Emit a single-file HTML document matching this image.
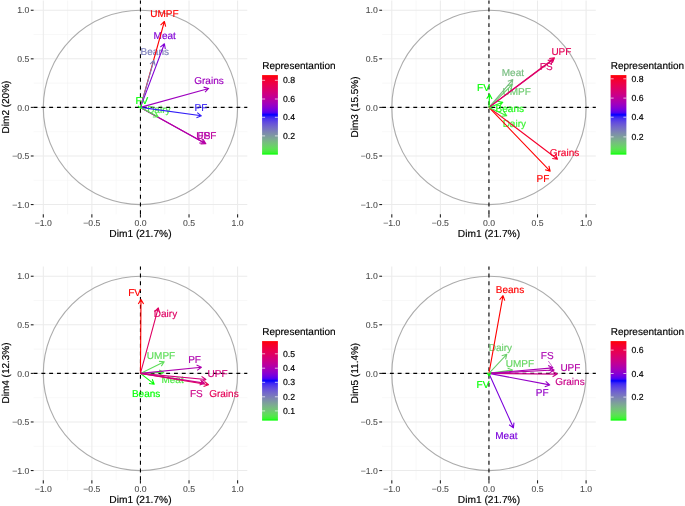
<!DOCTYPE html>
<html><head><meta charset="utf-8"><style>
html,body{margin:0;padding:0;background:#fff;}
svg{display:block;will-change:transform;}
text{font-family:"Liberation Sans", sans-serif;text-rendering:geometricPrecision;stroke-width:0.16px;}
.gmaj{stroke:#ebebeb;stroke-width:1.05;}
.gmin{stroke:#f3f3f3;stroke-width:0.55;}
.circ{fill:none;stroke:#acacac;stroke-width:1.15;}
.dash{stroke:#000;stroke-width:1.1;stroke-dasharray:3.9 3.9;}
.tick{stroke:#222;stroke-width:1.1;}
.tl{font-size:8.7px;fill:#4d4d4d;stroke:#4d4d4d;stroke-width:0.08px;}
.at{font-size:10.2px;fill:#000;stroke:#000;}
.yt{font-size:10px;fill:#000;stroke:#000;}
.lt{font-size:10px;fill:#000;stroke:#000;}
.ll{font-size:8.7px;fill:#000;stroke:#000;}
.lab{font-size:10px;}
.arr{fill:none;stroke-width:1.1;stroke-linecap:butt;stroke-linejoin:round;}
.ltk{stroke:#fff;stroke-width:0.8;opacity:0.85;}
</style></head><body>
<svg width="685" height="506" viewBox="0 0 685 506">
<defs><linearGradient id="lg" x1="0" y1="1" x2="0" y2="0">
<stop offset="0.000" stop-color="#00ff00"/>
<stop offset="0.025" stop-color="#39f431"/>
<stop offset="0.050" stop-color="#4fe947"/>
<stop offset="0.075" stop-color="#5ddf57"/>
<stop offset="0.100" stop-color="#67d465"/>
<stop offset="0.125" stop-color="#6fc972"/>
<stop offset="0.150" stop-color="#75bf7d"/>
<stop offset="0.175" stop-color="#79b488"/>
<stop offset="0.200" stop-color="#7ca993"/>
<stop offset="0.225" stop-color="#7d9e9c"/>
<stop offset="0.250" stop-color="#7d93a6"/>
<stop offset="0.275" stop-color="#7d88af"/>
<stop offset="0.300" stop-color="#7a7db9"/>
<stop offset="0.325" stop-color="#7772c2"/>
<stop offset="0.350" stop-color="#7267cb"/>
<stop offset="0.375" stop-color="#6c5bd3"/>
<stop offset="0.400" stop-color="#644fdc"/>
<stop offset="0.425" stop-color="#5941e5"/>
<stop offset="0.450" stop-color="#4b33ee"/>
<stop offset="0.475" stop-color="#3621f6"/>
<stop offset="0.500" stop-color="#0000ff"/>
<stop offset="0.525" stop-color="#4b00f3"/>
<stop offset="0.550" stop-color="#6800e7"/>
<stop offset="0.575" stop-color="#7c00da"/>
<stop offset="0.600" stop-color="#8d00ce"/>
<stop offset="0.625" stop-color="#9a00c3"/>
<stop offset="0.650" stop-color="#a600b7"/>
<stop offset="0.675" stop-color="#b000ab"/>
<stop offset="0.700" stop-color="#ba009f"/>
<stop offset="0.725" stop-color="#c20094"/>
<stop offset="0.750" stop-color="#ca0088"/>
<stop offset="0.775" stop-color="#d1007d"/>
<stop offset="0.800" stop-color="#d70072"/>
<stop offset="0.825" stop-color="#dd0066"/>
<stop offset="0.850" stop-color="#e3005b"/>
<stop offset="0.875" stop-color="#e80050"/>
<stop offset="0.900" stop-color="#ed0044"/>
<stop offset="0.925" stop-color="#f20037"/>
<stop offset="0.950" stop-color="#f6002a"/>
<stop offset="0.975" stop-color="#fb001a"/>
<stop offset="1.000" stop-color="#ff0000"/>
</linearGradient></defs>
<rect width="685" height="506" fill="#fff"/>
<line x1="67.59" y1="0.53" x2="67.59" y2="214.27" class="gmin"/>
<line x1="33.58" y1="180.26" x2="247.31" y2="180.26" class="gmin"/>
<line x1="116.16" y1="0.53" x2="116.16" y2="214.27" class="gmin"/>
<line x1="33.58" y1="131.69" x2="247.31" y2="131.69" class="gmin"/>
<line x1="164.74" y1="0.53" x2="164.74" y2="214.27" class="gmin"/>
<line x1="33.58" y1="83.11" x2="247.31" y2="83.11" class="gmin"/>
<line x1="213.31" y1="0.53" x2="213.31" y2="214.27" class="gmin"/>
<line x1="33.58" y1="34.54" x2="247.31" y2="34.54" class="gmin"/>
<line x1="43.3" y1="0.53" x2="43.3" y2="214.27" class="gmaj"/>
<line x1="33.58" y1="204.55" x2="247.31" y2="204.55" class="gmaj"/>
<line x1="91.87" y1="0.53" x2="91.87" y2="214.27" class="gmaj"/>
<line x1="33.58" y1="155.98" x2="247.31" y2="155.98" class="gmaj"/>
<line x1="140.45" y1="0.53" x2="140.45" y2="214.27" class="gmaj"/>
<line x1="33.58" y1="107.4" x2="247.31" y2="107.4" class="gmaj"/>
<line x1="189.02" y1="0.53" x2="189.02" y2="214.27" class="gmaj"/>
<line x1="33.58" y1="58.83" x2="247.31" y2="58.83" class="gmaj"/>
<line x1="237.6" y1="0.53" x2="237.6" y2="214.27" class="gmaj"/>
<line x1="33.58" y1="10.25" x2="247.31" y2="10.25" class="gmaj"/>
<circle cx="140.45" cy="107.4" r="97.15" class="circ"/>
<line x1="33.58" y1="107.4" x2="247.31" y2="107.4" class="dash"/>
<line x1="140.45" y1="214.27" x2="140.45" y2="0.53" class="dash"/>
<line x1="43.3" y1="214.27" x2="43.3" y2="217.47" class="tick"/>
<line x1="30.78" y1="204.55" x2="33.58" y2="204.55" class="tick"/>
<text x="43.3" y="225.9" class="tl" text-anchor="middle">−1.0</text>
<text x="29.3" y="207.65" class="tl" text-anchor="end">−1.0</text>
<line x1="91.87" y1="214.27" x2="91.87" y2="217.47" class="tick"/>
<line x1="30.78" y1="155.98" x2="33.58" y2="155.98" class="tick"/>
<text x="91.87" y="225.9" class="tl" text-anchor="middle">−0.5</text>
<text x="29.3" y="159.08" class="tl" text-anchor="end">−0.5</text>
<line x1="140.45" y1="214.27" x2="140.45" y2="217.47" class="tick"/>
<line x1="30.78" y1="107.4" x2="33.58" y2="107.4" class="tick"/>
<text x="140.45" y="225.9" class="tl" text-anchor="middle">0.0</text>
<text x="29.3" y="110.5" class="tl" text-anchor="end">0.0</text>
<line x1="189.02" y1="214.27" x2="189.02" y2="217.47" class="tick"/>
<line x1="30.78" y1="58.83" x2="33.58" y2="58.83" class="tick"/>
<text x="189.02" y="225.9" class="tl" text-anchor="middle">0.5</text>
<text x="29.3" y="61.93" class="tl" text-anchor="end">0.5</text>
<line x1="237.6" y1="214.27" x2="237.6" y2="217.47" class="tick"/>
<line x1="30.78" y1="10.25" x2="33.58" y2="10.25" class="tick"/>
<text x="237.6" y="225.9" class="tl" text-anchor="middle">1.0</text>
<text x="29.3" y="13.35" class="tl" text-anchor="end">1.0</text>
<text x="140.45" y="236.8" class="at" text-anchor="middle">Dim1 (21.7%)</text>
<text transform="translate(9.2,107) rotate(-90)" class="yt" text-anchor="middle">Dim2 (20%)</text>
<text x="164.45" y="16.7" fill="#ff0000" stroke="#ff0000" class="lab" text-anchor="middle">UMPF</text>
<text x="164.7" y="38.9" fill="#8200d6" stroke="#8200d6" class="lab" text-anchor="middle">Meat</text>
<text x="154.8" y="54.8" fill="#7a7cba" stroke="#7a7cba" class="lab" text-anchor="middle">Beans</text>
<text x="209" y="83.8" fill="#9e00bf" stroke="#9e00bf" class="lab" text-anchor="middle">Grains</text>
<text x="201" y="110.9" fill="#321ef7" stroke="#321ef7" class="lab" text-anchor="middle">PF</text>
<text x="206.3" y="139.3" fill="#bb009d" stroke="#bb009d" class="lab" text-anchor="middle">UPF</text>
<text x="204" y="139.3" fill="#b100ab" stroke="#b100ab" class="lab" text-anchor="middle">FS</text>
<text x="141.85" y="104.2" fill="#00ff00" stroke="#00ff00" class="lab" text-anchor="middle">FV</text>
<text x="158.8" y="112.7" fill="#50e948" stroke="#50e948" class="lab" text-anchor="middle">Dairy</text>
<path d="M140.45 107.4L164.37 21.48M160.58 25.19L164.37 21.48L165.69 26.61" stroke="#ff0000" class="arr"/>
<path d="M140.45 107.4L164.42 43.77M160.33 47.13L164.42 43.77L165.29 49" stroke="#8200d6" class="arr"/>
<path d="M140.45 107.4L153.86 60.38M150.06 64.07L153.86 60.38L155.15 65.52" stroke="#7a7cba" class="arr"/>
<path d="M140.45 107.4L208.72 88.43M203.59 87.11L208.72 88.43L205.01 92.22" stroke="#9e00bf" class="arr"/>
<path d="M140.45 107.4L201.4 115.83M197.22 112.58L201.4 115.83L196.49 117.83" stroke="#321ef7" class="arr"/>
<path d="M140.45 107.4L205.86 143.76M203.14 139.21L205.86 143.76L200.56 143.84" stroke="#bb009d" class="arr"/>
<path d="M140.45 107.4L204.46 142.96M201.74 138.41L204.46 142.96L199.16 143.05" stroke="#b100ab" class="arr"/>
<path d="M140.45 107.4L140.76 108.42M141.63 104.72L140.76 108.42L137.99 105.81" stroke="#00ff00" class="arr"/>
<path d="M140.45 107.4L158.16 116.77M155.34 112.28L158.16 116.77L152.86 116.96" stroke="#50e948" class="arr"/>
<text x="262.2" y="69" class="lt">Representantion</text>
<rect x="262.1" y="75.1" width="15.8" height="79.5" fill="url(#lg)"/>
<line x1="262.1" y1="80.3" x2="265.1" y2="80.3" class="ltk"/>
<line x1="274.9" y1="80.3" x2="277.9" y2="80.3" class="ltk"/>
<text x="283" y="83.4" class="ll">0.8</text>
<line x1="262.1" y1="99" x2="265.1" y2="99" class="ltk"/>
<line x1="274.9" y1="99" x2="277.9" y2="99" class="ltk"/>
<text x="283" y="102.1" class="ll">0.6</text>
<line x1="262.1" y1="117.3" x2="265.1" y2="117.3" class="ltk"/>
<line x1="274.9" y1="117.3" x2="277.9" y2="117.3" class="ltk"/>
<text x="283" y="120.4" class="ll">0.4</text>
<line x1="262.1" y1="135.9" x2="265.1" y2="135.9" class="ltk"/>
<line x1="274.9" y1="135.9" x2="277.9" y2="135.9" class="ltk"/>
<text x="283" y="139" class="ll">0.2</text>
<line x1="416.09" y1="0.53" x2="416.09" y2="214.27" class="gmin"/>
<line x1="382.08" y1="180.26" x2="595.82" y2="180.26" class="gmin"/>
<line x1="464.66" y1="0.53" x2="464.66" y2="214.27" class="gmin"/>
<line x1="382.08" y1="131.69" x2="595.82" y2="131.69" class="gmin"/>
<line x1="513.24" y1="0.53" x2="513.24" y2="214.27" class="gmin"/>
<line x1="382.08" y1="83.11" x2="595.82" y2="83.11" class="gmin"/>
<line x1="561.81" y1="0.53" x2="561.81" y2="214.27" class="gmin"/>
<line x1="382.08" y1="34.54" x2="595.82" y2="34.54" class="gmin"/>
<line x1="391.8" y1="0.53" x2="391.8" y2="214.27" class="gmaj"/>
<line x1="382.08" y1="204.55" x2="595.82" y2="204.55" class="gmaj"/>
<line x1="440.38" y1="0.53" x2="440.38" y2="214.27" class="gmaj"/>
<line x1="382.08" y1="155.98" x2="595.82" y2="155.98" class="gmaj"/>
<line x1="488.95" y1="0.53" x2="488.95" y2="214.27" class="gmaj"/>
<line x1="382.08" y1="107.4" x2="595.82" y2="107.4" class="gmaj"/>
<line x1="537.52" y1="0.53" x2="537.52" y2="214.27" class="gmaj"/>
<line x1="382.08" y1="58.83" x2="595.82" y2="58.83" class="gmaj"/>
<line x1="586.1" y1="0.53" x2="586.1" y2="214.27" class="gmaj"/>
<line x1="382.08" y1="10.25" x2="595.82" y2="10.25" class="gmaj"/>
<circle cx="488.95" cy="107.4" r="97.15" class="circ"/>
<line x1="382.08" y1="107.4" x2="595.82" y2="107.4" class="dash"/>
<line x1="488.95" y1="214.27" x2="488.95" y2="0.53" class="dash"/>
<line x1="391.8" y1="214.27" x2="391.8" y2="217.47" class="tick"/>
<line x1="379.28" y1="204.55" x2="382.08" y2="204.55" class="tick"/>
<text x="391.8" y="225.9" class="tl" text-anchor="middle">−1.0</text>
<text x="377.8" y="207.65" class="tl" text-anchor="end">−1.0</text>
<line x1="440.38" y1="214.27" x2="440.38" y2="217.47" class="tick"/>
<line x1="379.28" y1="155.98" x2="382.08" y2="155.98" class="tick"/>
<text x="440.38" y="225.9" class="tl" text-anchor="middle">−0.5</text>
<text x="377.8" y="159.08" class="tl" text-anchor="end">−0.5</text>
<line x1="488.95" y1="214.27" x2="488.95" y2="217.47" class="tick"/>
<line x1="379.28" y1="107.4" x2="382.08" y2="107.4" class="tick"/>
<text x="488.95" y="225.9" class="tl" text-anchor="middle">0.0</text>
<text x="377.8" y="110.5" class="tl" text-anchor="end">0.0</text>
<line x1="537.52" y1="214.27" x2="537.52" y2="217.47" class="tick"/>
<line x1="379.28" y1="58.83" x2="382.08" y2="58.83" class="tick"/>
<text x="537.52" y="225.9" class="tl" text-anchor="middle">0.5</text>
<text x="377.8" y="61.93" class="tl" text-anchor="end">0.5</text>
<line x1="586.1" y1="214.27" x2="586.1" y2="217.47" class="tick"/>
<line x1="379.28" y1="10.25" x2="382.08" y2="10.25" class="tick"/>
<text x="586.1" y="225.9" class="tl" text-anchor="middle">1.0</text>
<text x="377.8" y="13.35" class="tl" text-anchor="end">1.0</text>
<text x="488.95" y="236.8" class="at" text-anchor="middle">Dim1 (21.7%)</text>
<text transform="translate(357.7,107) rotate(-90)" class="yt" text-anchor="middle">Dim3 (15.5%)</text>
<text x="516.6" y="95.2" fill="#6ecb70" stroke="#6ecb70" class="lab" text-anchor="middle">UMPF</text>
<text x="512.9" y="75.9" fill="#76bd7f" stroke="#76bd7f" class="lab" text-anchor="middle">Meat</text>
<text x="509.8" y="112.3" fill="#1bfc16" stroke="#1bfc16" class="lab" text-anchor="middle">Beans</text>
<text x="564.5" y="155.9" fill="#f5002d" stroke="#f5002d" class="lab" text-anchor="middle">Grains</text>
<text x="543" y="181.8" fill="#ff0000" stroke="#ff0000" class="lab" text-anchor="middle">PF</text>
<text x="561.4" y="55" fill="#e50056" stroke="#e50056" class="lab" text-anchor="middle">UPF</text>
<text x="546.2" y="69.7" fill="#da006c" stroke="#da006c" class="lab" text-anchor="middle">FS</text>
<text x="483.5" y="91.1" fill="#00ff00" stroke="#00ff00" class="lab" text-anchor="middle">FV</text>
<text x="514.3" y="127.1" fill="#3df335" stroke="#3df335" class="lab" text-anchor="middle">Dairy</text>
<path d="M488.95 107.4L512.34 84.35M507.21 85.68L512.34 84.35L510.93 89.46" stroke="#6ecb70" class="arr"/>
<path d="M488.95 107.4L512.77 79.58M507.78 81.34L512.77 79.58L511.8 84.79" stroke="#76bd7f" class="arr"/>
<path d="M488.95 107.4L502.83 102.18M497.6 101.31L502.83 102.18L499.47 106.27" stroke="#1bfc16" class="arr"/>
<path d="M488.95 107.4L557.5 159.2M555.44 154.32L557.5 159.2L552.24 158.55" stroke="#f5002d" class="arr"/>
<path d="M488.95 107.4L550.15 171.14M548.89 165.99L550.15 171.14L545.06 169.66" stroke="#ff0000" class="arr"/>
<path d="M488.95 107.4L554.5 57.9M549.24 58.55L554.5 57.9L552.43 62.78" stroke="#e50056" class="arr"/>
<path d="M488.95 107.4L553 59.8M547.73 60.41L553 59.8L550.9 64.66" stroke="#da006c" class="arr"/>
<path d="M488.95 107.4L489.58 94.3M486.71 98.76L489.58 94.3L492 99.01" stroke="#00ff00" class="arr"/>
<path d="M488.95 107.4L506.75 115.79M503.73 111.43L506.75 115.79L501.47 116.23" stroke="#3df335" class="arr"/>
<text x="610.7" y="69" class="lt">Representantion</text>
<rect x="610.6" y="75.1" width="15.8" height="79.5" fill="url(#lg)"/>
<line x1="610.6" y1="78.8" x2="613.6" y2="78.8" class="ltk"/>
<line x1="623.4" y1="78.8" x2="626.4" y2="78.8" class="ltk"/>
<text x="631.5" y="81.9" class="ll">0.8</text>
<line x1="610.6" y1="98.1" x2="613.6" y2="98.1" class="ltk"/>
<line x1="623.4" y1="98.1" x2="626.4" y2="98.1" class="ltk"/>
<text x="631.5" y="101.2" class="ll">0.6</text>
<line x1="610.6" y1="117.2" x2="613.6" y2="117.2" class="ltk"/>
<line x1="623.4" y1="117.2" x2="626.4" y2="117.2" class="ltk"/>
<text x="631.5" y="120.3" class="ll">0.4</text>
<line x1="610.6" y1="136.9" x2="613.6" y2="136.9" class="ltk"/>
<line x1="623.4" y1="136.9" x2="626.4" y2="136.9" class="ltk"/>
<text x="631.5" y="140" class="ll">0.2</text>
<line x1="67.59" y1="266.53" x2="67.59" y2="480.26" class="gmin"/>
<line x1="33.58" y1="446.26" x2="247.31" y2="446.26" class="gmin"/>
<line x1="116.16" y1="266.53" x2="116.16" y2="480.26" class="gmin"/>
<line x1="33.58" y1="397.69" x2="247.31" y2="397.69" class="gmin"/>
<line x1="164.74" y1="266.53" x2="164.74" y2="480.26" class="gmin"/>
<line x1="33.58" y1="349.11" x2="247.31" y2="349.11" class="gmin"/>
<line x1="213.31" y1="266.53" x2="213.31" y2="480.26" class="gmin"/>
<line x1="33.58" y1="300.54" x2="247.31" y2="300.54" class="gmin"/>
<line x1="43.3" y1="266.53" x2="43.3" y2="480.26" class="gmaj"/>
<line x1="33.58" y1="470.55" x2="247.31" y2="470.55" class="gmaj"/>
<line x1="91.87" y1="266.53" x2="91.87" y2="480.26" class="gmaj"/>
<line x1="33.58" y1="421.97" x2="247.31" y2="421.97" class="gmaj"/>
<line x1="140.45" y1="266.53" x2="140.45" y2="480.26" class="gmaj"/>
<line x1="33.58" y1="373.4" x2="247.31" y2="373.4" class="gmaj"/>
<line x1="189.02" y1="266.53" x2="189.02" y2="480.26" class="gmaj"/>
<line x1="33.58" y1="324.82" x2="247.31" y2="324.82" class="gmaj"/>
<line x1="237.6" y1="266.53" x2="237.6" y2="480.26" class="gmaj"/>
<line x1="33.58" y1="276.25" x2="247.31" y2="276.25" class="gmaj"/>
<circle cx="140.45" cy="373.4" r="97.15" class="circ"/>
<line x1="33.58" y1="373.4" x2="247.31" y2="373.4" class="dash"/>
<line x1="140.45" y1="480.26" x2="140.45" y2="266.53" class="dash"/>
<line x1="43.3" y1="480.26" x2="43.3" y2="483.46" class="tick"/>
<line x1="30.78" y1="470.55" x2="33.58" y2="470.55" class="tick"/>
<text x="43.3" y="491.9" class="tl" text-anchor="middle">−1.0</text>
<text x="29.3" y="473.65" class="tl" text-anchor="end">−1.0</text>
<line x1="91.87" y1="480.26" x2="91.87" y2="483.46" class="tick"/>
<line x1="30.78" y1="421.97" x2="33.58" y2="421.97" class="tick"/>
<text x="91.87" y="491.9" class="tl" text-anchor="middle">−0.5</text>
<text x="29.3" y="425.07" class="tl" text-anchor="end">−0.5</text>
<line x1="140.45" y1="480.26" x2="140.45" y2="483.46" class="tick"/>
<line x1="30.78" y1="373.4" x2="33.58" y2="373.4" class="tick"/>
<text x="140.45" y="491.9" class="tl" text-anchor="middle">0.0</text>
<text x="29.3" y="376.5" class="tl" text-anchor="end">0.0</text>
<line x1="189.02" y1="480.26" x2="189.02" y2="483.46" class="tick"/>
<line x1="30.78" y1="324.82" x2="33.58" y2="324.82" class="tick"/>
<text x="189.02" y="491.9" class="tl" text-anchor="middle">0.5</text>
<text x="29.3" y="327.93" class="tl" text-anchor="end">0.5</text>
<line x1="237.6" y1="480.26" x2="237.6" y2="483.46" class="tick"/>
<line x1="30.78" y1="276.25" x2="33.58" y2="276.25" class="tick"/>
<text x="237.6" y="491.9" class="tl" text-anchor="middle">1.0</text>
<text x="29.3" y="279.35" class="tl" text-anchor="end">1.0</text>
<text x="140.45" y="503.4" class="at" text-anchor="middle">Dim1 (21.7%)</text>
<text transform="translate(9.2,373) rotate(-90)" class="yt" text-anchor="middle">Dim4 (12.3%)</text>
<text x="161" y="358.5" fill="#5ede59" stroke="#5ede59" class="lab" text-anchor="middle">UMPF</text>
<text x="172.6" y="383.1" fill="#4deb45" stroke="#4deb45" class="lab" text-anchor="middle">Meat</text>
<text x="146.1" y="396.5" fill="#00ff00" stroke="#00ff00" class="lab" text-anchor="middle">Beans</text>
<text x="223.9" y="396.9" fill="#e50056" stroke="#e50056" class="lab" text-anchor="middle">Grains</text>
<text x="194.6" y="363.4" fill="#ae00ae" stroke="#ae00ae" class="lab" text-anchor="middle">PF</text>
<text x="217.5" y="376.5" fill="#d1007c" stroke="#d1007c" class="lab" text-anchor="middle">UPF</text>
<text x="196.4" y="396.5" fill="#cb0087" stroke="#cb0087" class="lab" text-anchor="middle">FS</text>
<text x="134.6" y="296.1" fill="#ff0000" stroke="#ff0000" class="lab" text-anchor="middle">FV</text>
<text x="165.5" y="317.2" fill="#df0062" stroke="#df0062" class="lab" text-anchor="middle">Dairy</text>
<path d="M140.45 373.4L164.25 361.72M158.96 361.36L164.25 361.72L161.3 366.12" stroke="#5ede59" class="arr"/>
<path d="M140.45 373.4L163.8 372.32M159.09 369.89L163.8 372.32L159.34 375.18" stroke="#4deb45" class="arr"/>
<path d="M140.45 373.4L154.21 384.19M152.23 379.27L154.21 384.19L148.96 383.44" stroke="#00ff00" class="arr"/>
<path d="M140.45 373.4L208.51 384.72M204.41 381.35L208.51 384.72L203.54 386.58" stroke="#e50056" class="arr"/>
<path d="M140.45 373.4L201.4 367.25M196.57 365.07L201.4 367.25L197.1 370.35" stroke="#ae00ae" class="arr"/>
<path d="M140.45 373.4L205.9 379.45M201.58 376.39L205.9 379.45L201.09 381.67" stroke="#d1007c" class="arr"/>
<path d="M140.45 373.4L204.51 383.12M200.37 379.82L204.51 383.12L199.57 385.06" stroke="#cb0087" class="arr"/>
<path d="M140.45 373.4L141 299.4M138.31 303.97L141 299.4L143.61 304.01" stroke="#ff0000" class="arr"/>
<path d="M140.45 373.4L158.27 307.78M154.51 311.52L158.27 307.78L159.62 312.91" stroke="#df0062" class="arr"/>
<text x="262.2" y="335.4" class="lt">Representantion</text>
<rect x="262.1" y="341.1" width="15.8" height="79.5" fill="url(#lg)"/>
<line x1="262.1" y1="353.8" x2="265.1" y2="353.8" class="ltk"/>
<line x1="274.9" y1="353.8" x2="277.9" y2="353.8" class="ltk"/>
<text x="283" y="356.9" class="ll">0.5</text>
<line x1="262.1" y1="368.2" x2="265.1" y2="368.2" class="ltk"/>
<line x1="274.9" y1="368.2" x2="277.9" y2="368.2" class="ltk"/>
<text x="283" y="371.3" class="ll">0.4</text>
<line x1="262.1" y1="382.3" x2="265.1" y2="382.3" class="ltk"/>
<line x1="274.9" y1="382.3" x2="277.9" y2="382.3" class="ltk"/>
<text x="283" y="385.4" class="ll">0.3</text>
<line x1="262.1" y1="396.8" x2="265.1" y2="396.8" class="ltk"/>
<line x1="274.9" y1="396.8" x2="277.9" y2="396.8" class="ltk"/>
<text x="283" y="399.9" class="ll">0.2</text>
<line x1="262.1" y1="410.9" x2="265.1" y2="410.9" class="ltk"/>
<line x1="274.9" y1="410.9" x2="277.9" y2="410.9" class="ltk"/>
<text x="283" y="414" class="ll">0.1</text>
<line x1="416.09" y1="266.53" x2="416.09" y2="480.26" class="gmin"/>
<line x1="382.08" y1="446.26" x2="595.82" y2="446.26" class="gmin"/>
<line x1="464.66" y1="266.53" x2="464.66" y2="480.26" class="gmin"/>
<line x1="382.08" y1="397.69" x2="595.82" y2="397.69" class="gmin"/>
<line x1="513.24" y1="266.53" x2="513.24" y2="480.26" class="gmin"/>
<line x1="382.08" y1="349.11" x2="595.82" y2="349.11" class="gmin"/>
<line x1="561.81" y1="266.53" x2="561.81" y2="480.26" class="gmin"/>
<line x1="382.08" y1="300.54" x2="595.82" y2="300.54" class="gmin"/>
<line x1="391.8" y1="266.53" x2="391.8" y2="480.26" class="gmaj"/>
<line x1="382.08" y1="470.55" x2="595.82" y2="470.55" class="gmaj"/>
<line x1="440.38" y1="266.53" x2="440.38" y2="480.26" class="gmaj"/>
<line x1="382.08" y1="421.97" x2="595.82" y2="421.97" class="gmaj"/>
<line x1="488.95" y1="266.53" x2="488.95" y2="480.26" class="gmaj"/>
<line x1="382.08" y1="373.4" x2="595.82" y2="373.4" class="gmaj"/>
<line x1="537.52" y1="266.53" x2="537.52" y2="480.26" class="gmaj"/>
<line x1="382.08" y1="324.82" x2="595.82" y2="324.82" class="gmaj"/>
<line x1="586.1" y1="266.53" x2="586.1" y2="480.26" class="gmaj"/>
<line x1="382.08" y1="276.25" x2="595.82" y2="276.25" class="gmaj"/>
<circle cx="488.95" cy="373.4" r="97.15" class="circ"/>
<line x1="382.08" y1="373.4" x2="595.82" y2="373.4" class="dash"/>
<line x1="488.95" y1="480.26" x2="488.95" y2="266.53" class="dash"/>
<line x1="391.8" y1="480.26" x2="391.8" y2="483.46" class="tick"/>
<line x1="379.28" y1="470.55" x2="382.08" y2="470.55" class="tick"/>
<text x="391.8" y="491.9" class="tl" text-anchor="middle">−1.0</text>
<text x="377.8" y="473.65" class="tl" text-anchor="end">−1.0</text>
<line x1="440.38" y1="480.26" x2="440.38" y2="483.46" class="tick"/>
<line x1="379.28" y1="421.97" x2="382.08" y2="421.97" class="tick"/>
<text x="440.38" y="491.9" class="tl" text-anchor="middle">−0.5</text>
<text x="377.8" y="425.07" class="tl" text-anchor="end">−0.5</text>
<line x1="488.95" y1="480.26" x2="488.95" y2="483.46" class="tick"/>
<line x1="379.28" y1="373.4" x2="382.08" y2="373.4" class="tick"/>
<text x="488.95" y="491.9" class="tl" text-anchor="middle">0.0</text>
<text x="377.8" y="376.5" class="tl" text-anchor="end">0.0</text>
<line x1="537.52" y1="480.26" x2="537.52" y2="483.46" class="tick"/>
<line x1="379.28" y1="324.82" x2="382.08" y2="324.82" class="tick"/>
<text x="537.52" y="491.9" class="tl" text-anchor="middle">0.5</text>
<text x="377.8" y="327.93" class="tl" text-anchor="end">0.5</text>
<line x1="586.1" y1="480.26" x2="586.1" y2="483.46" class="tick"/>
<line x1="379.28" y1="276.25" x2="382.08" y2="276.25" class="tick"/>
<text x="586.1" y="491.9" class="tl" text-anchor="middle">1.0</text>
<text x="377.8" y="279.35" class="tl" text-anchor="end">1.0</text>
<text x="488.95" y="503.4" class="at" text-anchor="middle">Dim1 (21.7%)</text>
<text transform="translate(357.7,373) rotate(-90)" class="yt" text-anchor="middle">Dim5 (11.4%)</text>
<text x="519.9" y="367.3" fill="#65d761" stroke="#65d761" class="lab" text-anchor="middle">UMPF</text>
<text x="506.4" y="439" fill="#7b00db" stroke="#7b00db" class="lab" text-anchor="middle">Meat</text>
<text x="510" y="292.5" fill="#ff0000" stroke="#ff0000" class="lab" text-anchor="middle">Beans</text>
<text x="569.9" y="385" fill="#c90089" stroke="#c90089" class="lab" text-anchor="middle">Grains</text>
<text x="542.2" y="396.1" fill="#9500c7" stroke="#9500c7" class="lab" text-anchor="middle">PF</text>
<text x="570.4" y="371.1" fill="#b400a7" stroke="#b400a7" class="lab" text-anchor="middle">UPF</text>
<text x="547.2" y="359.1" fill="#ab00b1" stroke="#ab00b1" class="lab" text-anchor="middle">FS</text>
<text x="483" y="387.6" fill="#00ff00" stroke="#00ff00" class="lab" text-anchor="middle">FV</text>
<text x="500.35" y="350.8" fill="#6bcf6b" stroke="#6bcf6b" class="lab" text-anchor="middle">Dairy</text>
<line x1="548.3" y1="361" x2="552.6" y2="367" stroke="#ab00b1" stroke-width="0.6"/>
<path d="M488.95 373.4L512.5 370.07M507.59 368.09L512.5 370.07L508.33 373.34" stroke="#65d761" class="arr"/>
<path d="M488.95 373.4L513.4 427.84M513.93 422.57L513.4 427.84L509.1 424.74" stroke="#7b00db" class="arr"/>
<path d="M488.95 373.4L503.01 295.69M499.59 299.74L503.01 295.69L504.8 300.68" stroke="#ff0000" class="arr"/>
<path d="M488.95 373.4L557.2 374.09M552.64 371.4L557.2 374.09L552.58 376.7" stroke="#c90089" class="arr"/>
<path d="M488.95 373.4L549.71 384.91M545.69 381.45L549.71 384.91L544.71 386.66" stroke="#9500c7" class="arr"/>
<path d="M488.95 373.4L554.1 370.03M549.38 367.62L554.1 370.03L549.65 372.91" stroke="#b400a7" class="arr"/>
<path d="M488.95 373.4L552.9 367.84M548.1 365.6L552.9 367.84L548.56 370.88" stroke="#ab00b1" class="arr"/>
<path d="M488.95 373.4L489.08 376M490.81 372.62L489.08 376L487.02 372.81" stroke="#00ff00" class="arr"/>
<path d="M488.95 373.4L506.76 354.27M501.69 355.82L506.76 354.27L505.57 359.43" stroke="#6bcf6b" class="arr"/>
<text x="610.7" y="335.4" class="lt">Representantion</text>
<rect x="610.6" y="341.1" width="15.8" height="79.5" fill="url(#lg)"/>
<line x1="610.6" y1="350.1" x2="613.6" y2="350.1" class="ltk"/>
<line x1="623.4" y1="350.1" x2="626.4" y2="350.1" class="ltk"/>
<text x="631.5" y="353.2" class="ll">0.6</text>
<line x1="610.6" y1="373.5" x2="613.6" y2="373.5" class="ltk"/>
<line x1="623.4" y1="373.5" x2="626.4" y2="373.5" class="ltk"/>
<text x="631.5" y="376.6" class="ll">0.4</text>
<line x1="610.6" y1="397.1" x2="613.6" y2="397.1" class="ltk"/>
<line x1="623.4" y1="397.1" x2="626.4" y2="397.1" class="ltk"/>
<text x="631.5" y="400.2" class="ll">0.2</text>
</svg>
</body></html>
